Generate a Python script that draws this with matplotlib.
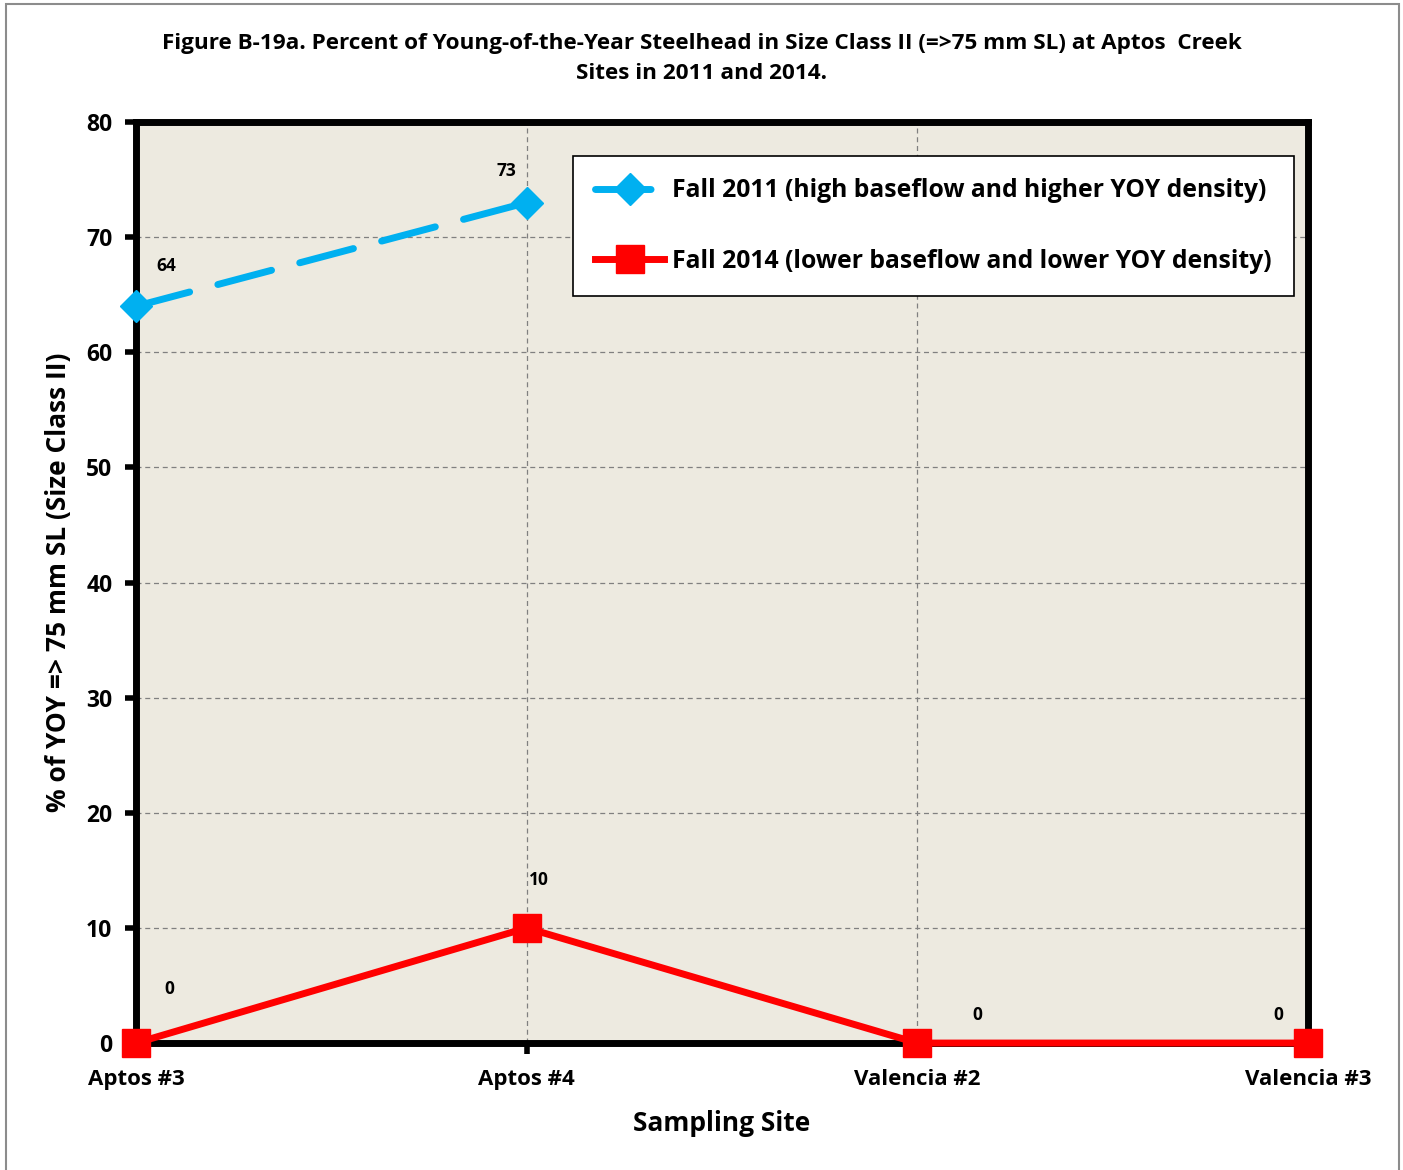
import matplotlib.pyplot as plt
from matplotlib.patches import Rectangle

plt.rcParams['font.family'] = ['Open Sans', 'DejaVu Sans']
plt.rcParams['font.weight'] = 'bold'

sites = ["Aptos #3", "Aptos #4", "Valencia #2", "Valencia #3"]
fall_2011 = [64, 73]          # only two sites sampled in 2011
fall_2014 = [0, 10, 0, 0]
label_2011 = "Fall 2011 (high baseflow and higher YOY density)"
label_2014 = "Fall 2014 (lower baseflow and lower YOY density)"

fig = plt.figure(figsize=(14.03, 11.7), dpi=100)
ax = fig.add_axes([0.0969, 0.1085, 0.8354, 0.7872])
ax.set_facecolor("#EDEAE0")

x = list(range(len(sites)))

ax.plot(x[:len(fall_2011)], fall_2011, color="#00B0F0", lw=5,
        dashes=(8, 4.2), dash_capstyle="round", marker="D", ms=16,
        mec="#00B0F0", label=label_2011, clip_on=False, zorder=5)
ax.plot(x, fall_2014, color="#FF0000", lw=5, marker="s", ms=19.5,
        mec="#FF0000", label=label_2014, clip_on=False, zorder=5)

# value labels
offs_2011 = [(30, 40), (-20, 32)]
for xi, v, o in zip(x, fall_2011, offs_2011):
    ax.annotate(str(v), (xi, v), xytext=o, textcoords="offset pixels",
                ha="center", va="center", fontsize=12.5, fontweight="bold")
offs_2014 = [(33, 54), (12, 48), (60, 28), (-30, 28)]
for xi, v, o in zip(x, fall_2014, offs_2014):
    ax.annotate(str(v), (xi, v), xytext=o, textcoords="offset pixels",
                ha="center", va="center", fontsize=12.5, fontweight="bold")

ax.set_xlim(0, 3)
ax.set_ylim(0, 80)
ax.set_xticks(x)
ax.set_xticklabels(sites, fontsize=16, fontweight="bold")
ax.set_yticks(range(0, 81, 10))
ax.tick_params(axis="y", labelsize=16.5, length=8, width=4, direction="out", pad=9)
ax.tick_params(axis="x", length=8, width=4, direction="out", pad=11)
for lab in ax.get_yticklabels():
    lab.set_fontweight("bold")

ax.grid(True, color="#808080", linestyle=(0, (4, 3)), lw=0.9)
for s in ax.spines.values():
    s.set_linewidth(5)
    s.set_color("black")

ax.set_xlabel("Sampling Site", fontsize=19, fontweight="bold", labelpad=14)
ax.set_ylabel("% of YOY => 75 mm SL (Size Class II)", fontsize=19,
              fontweight="bold", labelpad=10)

fig.text(0.5, 0.972, "Figure B-19a. Percent of Young-of-the-Year Steelhead in Size Class II (=>75 mm SL) at Aptos  Creek\nSites in 2011 and 2014.",
         ha="center", va="top", fontsize=16.2, fontweight="bold", linespacing=1.55)

leg = ax.legend(loc="upper left", bbox_to_anchor=(0.3729, 0.9631), fontsize=17.8,
                frameon=True, fancybox=False, edgecolor="black",
                framealpha=1, handlelength=2.8, handletextpad=0.3,
                labelspacing=1.85, borderpad=0.9, borderaxespad=0)
leg.get_frame().set_linewidth(1.2)

# outer frame of the figure
fig.patches.append(Rectangle((0.004, -0.01), 0.993, 1.007, transform=fig.transFigure,
                             fill=False, edgecolor="#8C8C8C", lw=1.5))

fig.savefig("out.png", dpi=100)
